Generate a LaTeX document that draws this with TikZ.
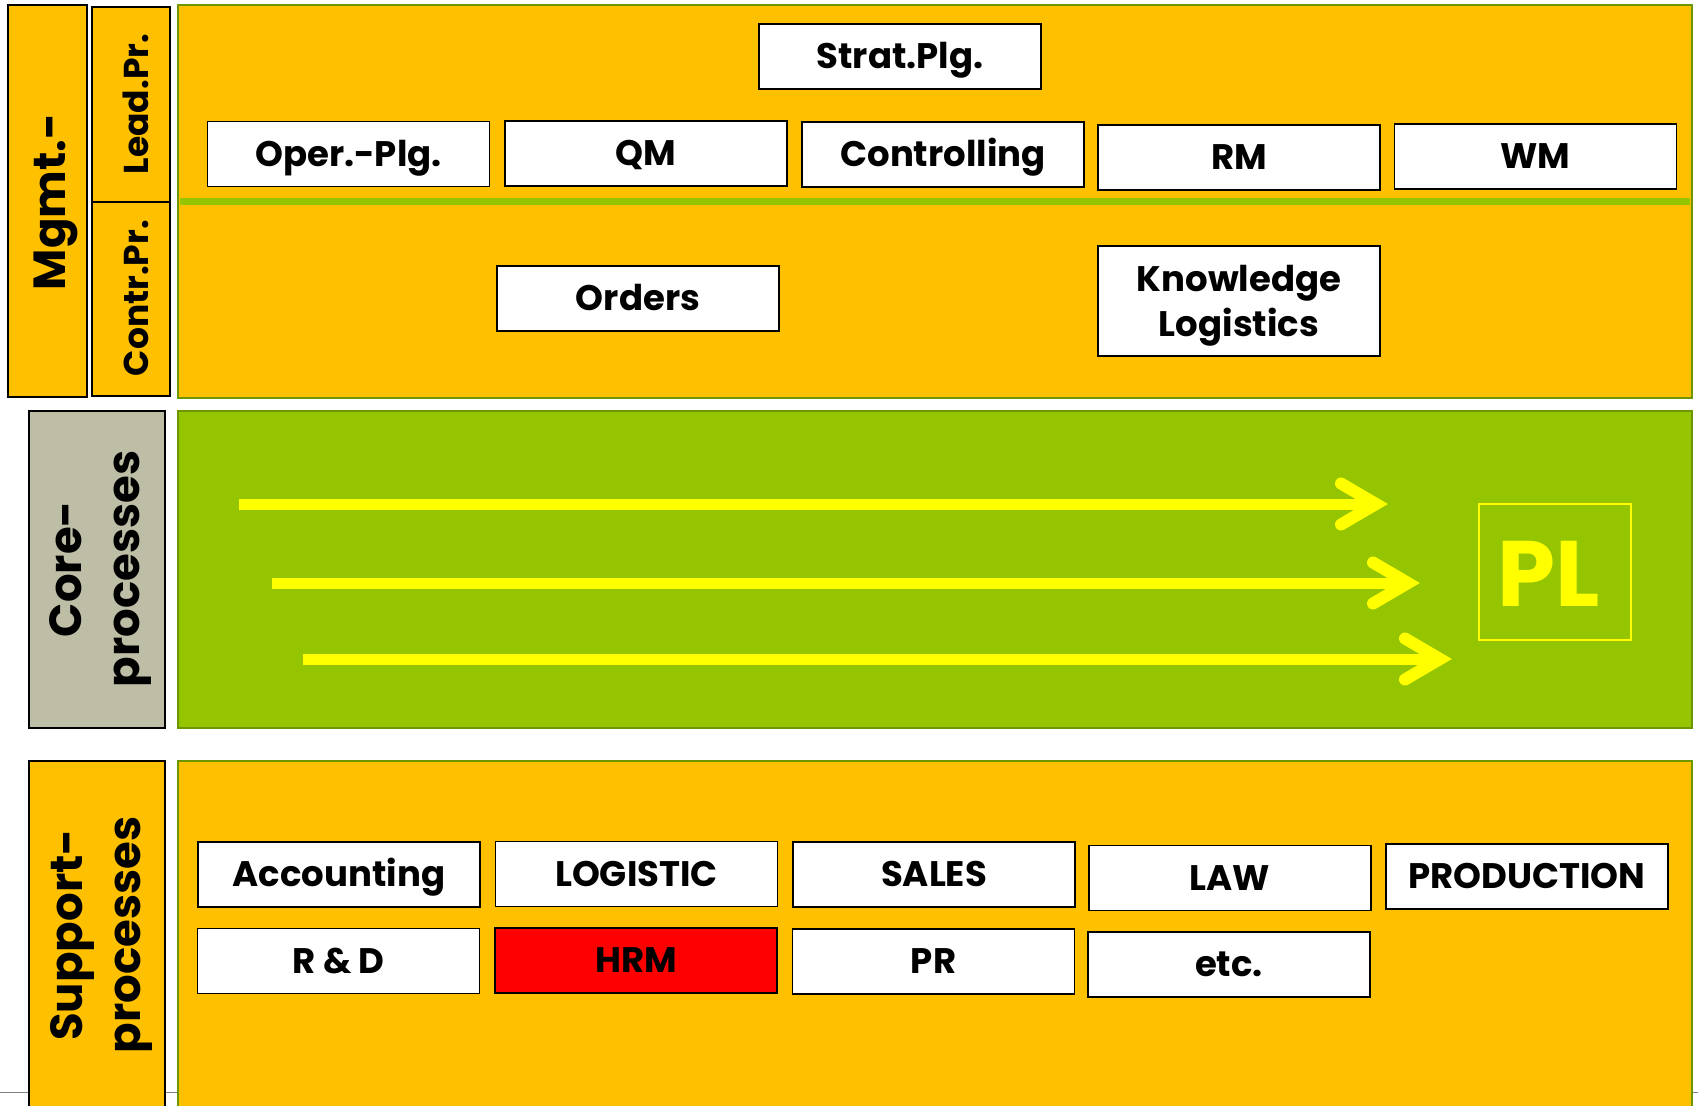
\documentclass[tikz,border=0pt]{standalone}
\usepackage{fontspec}
\setmainfont{Poppins}
\definecolor{orng}{HTML}{FFC000}
\definecolor{grn}{HTML}{95C500}
\definecolor{dgrn}{HTML}{6E9600}
\definecolor{gryb}{HTML}{BEBEA6}
\definecolor{ylw}{HTML}{FFFF00}
\definecolor{hrmred}{HTML}{FF0000}
\tikzset{
  panel/.style={draw=dgrn, line width=2.5pt, fill=#1},
  sidebox/.style={draw=black, line width=1.5pt, fill=#1},
  pboxbase/.style={draw=black, line width=1.5pt, fill=white, inner sep=0pt,
    minimum width=282pt, minimum height=65pt, align=center,
    font=\fontsize{35.5}{45}\selectfont\bfseries},
  pbox/.style={pboxbase, text height=24.7pt, text depth=0pt},
  biglbl/.style={rotate=90, inner sep=0pt, align=center,
    font=\fontsize{45}{58}\selectfont\bfseries},
  midlbl/.style={rotate=90, inner sep=0pt, text height=24pt, text depth=0pt,
    font=\fontsize{34.5}{40}\selectfont\bfseries},
  shaft/.style={draw=ylw, line width=11pt},
  barb/.style={draw=ylw, line width=12pt, line cap=round, miter limit=10},
}
\begin{document}
\begin{tikzpicture}[x=1pt, y=-1pt]
\useasboundingbox (0,0) rectangle (1698,1106);
\fill[white] (0,0) rectangle (1698,1106);
% thin base line
\draw[gray, line width=1pt] (0,1092) -- (1698,1092);
% panels
\draw[panel=orng] (178,5) rectangle (1692,398);
\draw[grn, line width=7pt] (180,201.5) -- (1690,201.5);
\draw[panel=grn] (178,411) rectangle (1692,728);
\draw[panel=orng] (178,761) rectangle (1692,1115);
% side label boxes
\draw[sidebox=orng] (8,5) rectangle (87,397);
\draw[sidebox=orng] (92,7) rectangle (170,202);
\draw[sidebox=orng] (92,202) rectangle (170,396);
\draw[sidebox=gryb] (29,411) rectangle (165,728);
\draw[sidebox=orng] (29,761) rectangle (165,1115);
% side labels
\node[biglbl, text height=31.4pt, text depth=0pt] (mgmt) at (50,202) {Mgmt.-};
\node[midlbl] (lead) at (136,104) {Lead.Pr.};
\node[midlbl] (contr) at (136,298) {Contr.Pr.};
\node[biglbl] (core) at (101,569) {Core-\\processes};
\node[biglbl] (support) at (101,935) {Support-\\processes};
% management boxes
\node[pbox] (strat) at (900,56.5) {Strat.Plg.};
\node[pbox] (oper) at (348.5,154) {Oper.-Plg.};
\node[pbox] (qm) at (646,153.5) {QM};
\node[pbox] (ctrl) at (943,154.5) {Controlling};
\node[pbox] (rm) at (1239,157.5) {RM};
\node[pbox] (wm) at (1535.5,156.5) {WM};
\node[pbox] (orders) at (638,298.5) {Orders};
\node[pboxbase, minimum height=110pt] (know) at (1239,301) {};
\node[align=center, inner sep=0pt, font=\fontsize{35.5}{45}\selectfont\bfseries] (knowtxt) at (1239,306) {Knowledge\\Logistics};
% support boxes
\node[pbox] (acc) at (339,874.5) {Accounting};
\node[pbox] (logi) at (636.5,874) {LOGISTIC};
\node[pbox] (sales) at (934,874.5) {SALES};
\node[pbox] (law) at (1230,878) {LAW};
\node[pbox] (prod) at (1527,876.5) {PRODUCTION};
\node[pbox] (rd) at (338.5,961) {R \& D};
\node[pbox, fill=hrmred] (hrm) at (636,960.5) {HRM};
\node[pbox] (pr) at (933.5,961.5) {PR};
\node[pbox] (etc) at (1229,964.5) {etc.};
% core process arrows
\coordinate (a1s) at (239,504);
\coordinate (a1e) at (1376,504);
\coordinate (a2s) at (272,583);
\coordinate (a2e) at (1408,583);
\coordinate (a3s) at (303,659);
\coordinate (a3e) at (1440,659);
\draw[shaft] (a1s) -- (a1e);
\draw[barb] (a1e) ++(-35,-20.5) -- (a1e) -- ++(-35,20.5);
\draw[shaft] (a2s) -- (a2e);
\draw[barb] (a2e) ++(-35,-20.5) -- (a2e) -- ++(-35,20.5);
\draw[shaft] (a3s) -- (a3e);
\draw[barb] (a3e) ++(-35,-20.5) -- (a3e) -- ++(-35,20.5);
% PL
\node[draw=ylw, line width=2pt, minimum width=152pt, minimum height=136pt, inner sep=0pt] (plbox) at (1555,572) {};
\node[text=ylw, inner sep=0pt, text height=65pt, text depth=0pt, font=\fontsize{93}{105}\selectfont\bfseries] (pl) at (1549,574) {PL};
\end{tikzpicture}
\end{document}
